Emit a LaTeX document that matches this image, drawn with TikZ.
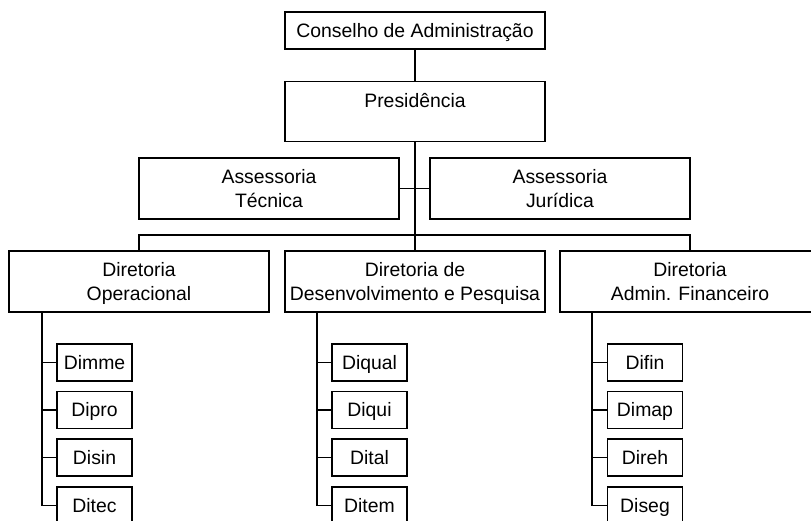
\documentclass[tikz,border=0pt]{standalone}
\usepackage{fontspec}
\setmainfont{Liberation Sans}
\begin{document}
\begin{tikzpicture}[x=1pt,y=-1pt,
  line width=1.3pt,
  every node/.style={font=\fontsize{19.4}{24}\selectfont},
  bigbox/.style={draw, rectangle, inner sep=0pt, minimum width=260pt, text height=49pt, text depth=12pt, align=center},
  topbox/.style={draw, rectangle, inner sep=0pt, minimum width=260pt, text height=25pt, text depth=12pt},
  smallbox/.style={draw, rectangle, inner sep=0pt, minimum width=75pt, text height=25pt, text depth=12pt}]
\clip (0,0) rectangle (811,520);
\fill[white] (0,0) rectangle (811,520);
% top levels
\node[topbox] (cons) at (415,30.5) {Conselho de Administração};
\node[draw, rectangle, inner xsep=0pt, inner ysep=0pt, minimum width=260pt, text height=26pt, text depth=34pt, anchor=north] (pres) at (415,81) {Presidência};
\node[bigbox] (tec) at (269,188.5) {Assessoria\\Técnica};
\node[bigbox] (jur) at (560,188.5) {Assessoria\\Jurídica};
\node[bigbox] (dop) at (139,281.5) {Diretoria\\Operacional};
\node[bigbox] (ddp) at (415,281.5) {Diretoria de\\Desenvolvimento e Pesquisa};
\node[bigbox] (dadm) at (690,281.5) {Diretoria\\Admin. Financeiro};
% sub units
\node[smallbox] (dimme) at (94.5,362.5) {Dimme};
\node[smallbox] (dipro) at (94.5,410) {Dipro};
\node[smallbox] (disin) at (94.5,457.5) {Disin};
\node[smallbox] (ditec) at (94.5,505.5) {Ditec};
\node[smallbox] (diqual) at (369.5,362.5) {Diqual};
\node[smallbox] (diqui) at (369.5,410) {Diqui};
\node[smallbox] (dital) at (369.5,457.5) {Dital};
\node[smallbox] (ditem) at (369.5,505.5) {Ditem};
\node[smallbox] (difin) at (645,362.5) {Difin};
\node[smallbox] (dimap) at (645,410) {Dimap};
\node[smallbox] (direh) at (645,457.5) {Direh};
\node[smallbox] (diseg) at (645,505.5) {Diseg};
% connectors
\coordinate (bar) at (415,235);
\draw (cons.south) -- (pres.north);
\draw (pres.south) -- (ddp.north);
\draw (tec.east) -- (jur.west);
\draw (dop.north) |- (bar) -| (dadm.north);
\coordinate (opL) at (42,312);
\coordinate (dpL) at (317,312);
\coordinate (adL) at (592,312);
\draw (opL) |- (ditec.west);
\draw (opL |- dimme.west) -- (dimme.west);
\draw (opL |- dipro.west) -- (dipro.west);
\draw (opL |- disin.west) -- (disin.west);
\draw (dpL) |- (ditem.west);
\draw (dpL |- diqual.west) -- (diqual.west);
\draw (dpL |- diqui.west) -- (diqui.west);
\draw (dpL |- dital.west) -- (dital.west);
\draw (adL) |- (diseg.west);
\draw (adL |- difin.west) -- (difin.west);
\draw (adL |- dimap.west) -- (dimap.west);
\draw (adL |- direh.west) -- (direh.west);
\end{tikzpicture}
\end{document}
